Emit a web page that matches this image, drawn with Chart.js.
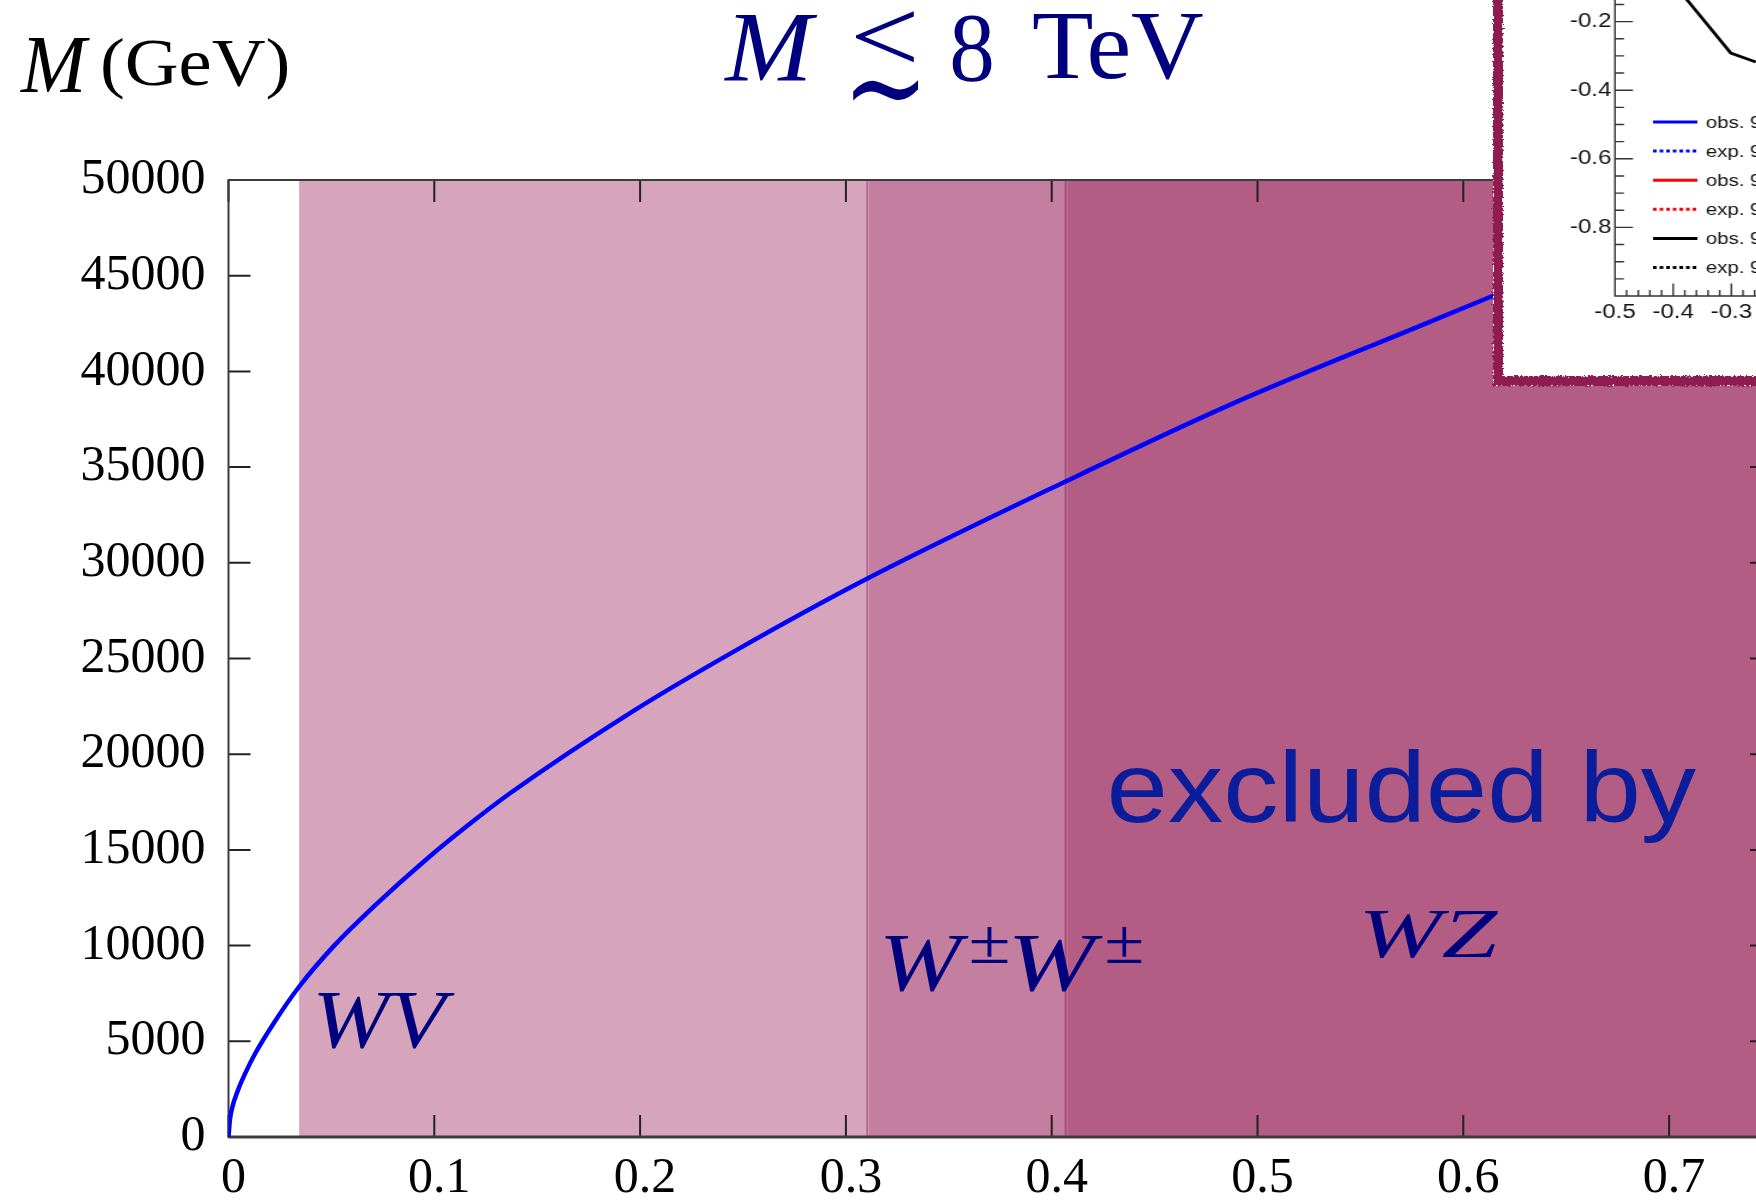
<!DOCTYPE html>
<html>
<head>
<meta charset="utf-8">
<title>M (GeV) exclusion</title>
<script src="https://cdn.jsdelivr.net/npm/chart.js"></script>
<style>
  html, body { margin: 0; padding: 0; overflow: hidden; background: #fff; }
  #wrap { position: relative; width: 1756px; height: 1202px; overflow: hidden; }
  #main { position: absolute; left: 0; top: 0; }
  #inset { position: absolute; left: 1493px; top: -30px; width: 300px; height: 396px;
           border: 10px solid transparent; background: #fff; overflow: hidden; }
  #insetEdge { position: absolute; left: 1493px; top: -30px; width: 300px; height: 396px;
               border: 10px solid #8e1a50; filter: url(#rough); }
  #insetChart { position: absolute; left: 0; top: -42px; transform: scaleX(1.2); transform-origin: 0 0; }
</style>
</head>
<body>
<svg width="0" height="0" style="position:absolute">
  <filter id="rough" x="-5%" y="-5%" width="110%" height="110%">
    <feTurbulence type="fractalNoise" baseFrequency="0.55" numOctaves="2" seed="3"/>
    <feDisplacementMap in="SourceGraphic" scale="5" xChannelSelector="R" yChannelSelector="G"/>
  </filter>
</svg>
<div id="wrap">
  <canvas id="main" width="1780" height="1202"></canvas>
  <div id="inset"><canvas id="insetChart" width="260" height="438"></canvas></div>
  <div id="insetEdge"></div>
</div>
<script>
// lower bound on M versus coupling
const couplingX = [0, 0.0007, 0.0016, 0.0048, 0.008, 0.0129, 0.0226, 0.0343, 0.0518, 0.0712,
                   0.0955, 0.1165, 0.1368, 0.1951, 0.247, 0.310, 0.4068, 0.4882, 0.579, 0.6154];
const massGeV   = [0, 900, 1450, 2500, 3300, 4350, 6050, 7850, 10050, 12100,
                   14450, 16300, 17960, 22150, 25450, 29150, 34250, 38330, 42380, 43990];

// excluded regions: WV from the first edge, W±W± from the second, WZ from the third
const bandNames = ['WV', 'W±W±', 'WZ'];
const bandFrom  = [0.0343, 0.3104, 0.4068];

// inset: observed limit contour (black)
const insetX = [-0.40, -0.372, -0.301, -0.258];
const insetY = [-0.09, -0.145, -0.292, -0.318];
const insetLegend = ['obs. 95% CL', 'exp. 95% CL', 'obs. 95% CL', 'exp. 95% CL', 'obs. 95% CL', 'exp. 95% CL'];

const X_MAX = 0.75, Y_MAX = 50000;
const bandFill = ['#d6a5bb', '#c47e9f', '#b45d84'];
const bandEdge = ['#d6a5bb', '#b8668e', '#a84c7a'];
const NAVY = '#00007f';

// draw text so that its ink fills the given box
function inkText(ctx, str, font, color, x0, x1, yTop, yBot) {
  ctx.save();
  ctx.font = font;
  ctx.fillStyle = color;
  ctx.textAlign = 'left';
  ctx.textBaseline = 'alphabetic';
  const m = ctx.measureText(str);
  const w = m.actualBoundingBoxLeft + m.actualBoundingBoxRight;
  const h = m.actualBoundingBoxAscent + m.actualBoundingBoxDescent;
  const sx = (x1 - x0) / w, sy = (yBot - yTop) / h;
  ctx.translate(x0 + m.actualBoundingBoxLeft * sx, yTop + m.actualBoundingBoxAscent * sy);
  ctx.scale(sx, sy);
  ctx.fillText(str, 0, 0);
  ctx.restore();
}

const frame = {
  id: 'frame',
  beforeDatasetDraw(chart, args) {
    if (args.index !== 0) return;           // curve is drawn last; frame goes just under it
    const { ctx, chartArea: a, scales: { x, y } } = chart;
    ctx.save();
    // band edges
    ctx.lineWidth = 2;
    bandFrom.forEach((b, i) => {
      if (i === 0) return;
      const px = x.getPixelForValue(b);
      ctx.strokeStyle = bandEdge[i];
      ctx.beginPath(); ctx.moveTo(px, a.top); ctx.lineTo(px, a.bottom); ctx.stroke();
    });
    ctx.strokeStyle = '#222';
    ctx.lineWidth = 2;
    ctx.beginPath();
    x.ticks.forEach(t => {
      const px = x.getPixelForValue(t.value);
      ctx.moveTo(px, a.bottom); ctx.lineTo(px, a.bottom - 22);
      ctx.moveTo(px, a.top); ctx.lineTo(px, a.top + 22);
    });
    y.ticks.forEach(t => {
      const py = y.getPixelForValue(t.value);
      ctx.moveTo(a.left, py); ctx.lineTo(a.left + 22, py);
      ctx.moveTo(a.right, py); ctx.lineTo(a.right - 22, py);
    });
    ctx.stroke();
    ctx.strokeStyle = '#3c3c3c';
    ctx.strokeRect(a.left, a.top, a.right - a.left, a.bottom - a.top);
    ctx.lineWidth = 3;
    ctx.beginPath();
    ctx.moveTo(a.left, a.bottom); ctx.lineTo(a.right, a.bottom);
    ctx.stroke();
    ctx.restore();
  },
  afterDraw(chart) {
    const { ctx, scales: { x, y } } = chart;
    const X = v => x.getPixelForValue(v), Y = v => y.getPixelForValue(v);
    const serif = '"Liberation Serif", "DejaVu Serif", serif';

    // axis title and heading
    inkText(ctx, 'M', 'italic 85px ' + serif, '#000', 20, 90, 37, 92);
    inkText(ctx, '(GeV)', '73px ' + serif, '#000', 103, 288, 38, 100);
    inkText(ctx, 'M', 'italic 98px ' + serif, NAVY, 723, 818, 15, 80);
    inkText(ctx, '<', '118px ' + serif, NAVY, 855, 914, 10, 63);
    inkText(ctx, '∼', '86px "DejaVu Serif"', NAVY, 853, 918, 79, 101);
    inkText(ctx, '8', '98px ' + serif, NAVY, 952, 992, 15, 82);
    inkText(ctx, 'TeV', '98px ' + serif, NAVY, 1033, 1203, 15, 80);

    // region names, placed in data units
    inkText(ctx, 'WV', 'italic 80px ' + serif, NAVY, X(0.0435), X(0.1100), Y(7523), Y(4650));
    inkText(ctx, 'W', 'italic 80px ' + serif, NAVY, X(0.3190), X(0.3598), Y(10554), Y(7628));
    inkText(ctx, '±', '60px ' + serif, NAVY, X(0.3608), X(0.3788), Y(10972), Y(9091));
    inkText(ctx, 'W', 'italic 80px ' + serif, NAVY, X(0.3817), X(0.4249), Y(10554), Y(7628));
    inkText(ctx, '±', '60px ' + serif, NAVY, X(0.4268), X(0.4438), Y(10972), Y(9091));
    inkText(ctx, 'WZ', 'italic 76px ' + serif, NAVY, X(0.5523), X(0.6169), Y(11808), Y(9352));
    inkText(ctx, 'excluded by', '100px "Liberation Sans", Arial, sans-serif', '#0b1d9b',
            X(0.4288), X(0.7131), Y(20272), Y(15360));
  }
};

const datasets = [{
  label: 'M',
  data: couplingX.map((c, i) => ({ x: c, y: massGeV[i] })),
  borderColor: '#0000ff',
  borderWidth: 4.5,
  pointRadius: 0,
  cubicInterpolationMode: 'monotone',
  fill: false
}];
// each band filled from its edge up to the next one (a hair past it, so no seam shows)
bandFrom.forEach((b, i) => {
  const to = i + 1 < bandFrom.length ? bandFrom[i + 1] + 0.001 : X_MAX;
  datasets.push({
    label: bandNames[i],
    data: [{ x: b, y: Y_MAX }, { x: to, y: Y_MAX }],
    backgroundColor: bandFill[i],
    borderColor: bandFill[i],
    borderWidth: 0,
    pointRadius: 0,
    tension: 0,
    fill: 'origin'
  });
});

new Chart(document.getElementById('main').getContext('2d'), {
  type: 'line',
  data: { datasets },
  plugins: [frame],
  options: {
    responsive: false,
    animation: false,
    devicePixelRatio: 1,
    layout: { padding: { left: 0, top: 180, right: 8, bottom: 0 } },
    plugins: { legend: { display: false }, tooltip: { enabled: false } },
    scales: {
      x: {
        type: 'linear', min: 0, max: X_MAX,
        border: { display: false },
        grid: { display: false, drawTicks: false },
        ticks: {
          stepSize: 0.1, includeBounds: false, autoSkip: false, maxRotation: 0,
          color: '#000', padding: 12, labelOffset: 5,
          font: { family: '"Liberation Serif"', size: 50 },
          callback: v => String(Math.round(v * 10) / 10)
        },
        afterFit(s) { s.height = 65; }
      },
      y: {
        type: 'linear', min: 0, max: Y_MAX,
        border: { display: false },
        grid: { display: false, drawTicks: false },
        ticks: {
          stepSize: 5000, color: '#000', padding: 23,
          font: { family: '"Liberation Serif"', size: 50 },
          callback: v => String(v)
        },
        afterFit(s) { s.width = 228.5; }
      }
    }
  }
});

// ---- inset ----
const insetAxes = {
  id: 'insetAxes',
  beforeDatasetsDraw(chart) {
    const { ctx, chartArea: a, scales: { x, y } } = chart;
    ctx.save();
    ctx.strokeStyle = '#333';
    ctx.lineWidth = 1.4;
    ctx.beginPath();
    ctx.moveTo(a.left, a.top); ctx.lineTo(a.left, a.bottom); ctx.lineTo(a.right, a.bottom);
    for (let k = 0; k * 0.05 <= (y.max - y.min) + 1e-9; k++) {
      const py = y.getPixelForValue(y.min + k * 0.05);
      ctx.moveTo(a.left, py); ctx.lineTo(a.left + (k % 4 === 0 ? 15 : 7.5), py);
    }
    for (let k = 0; k * 0.02 <= (x.max - x.min) + 1e-9; k++) {
      const px = x.getPixelForValue(x.min + k * 0.02);
      ctx.moveTo(px, a.bottom); ctx.lineTo(px, a.bottom - (k % 5 === 0 ? 12.5 : 6));
    }
    ctx.stroke();
    ctx.restore();
  },
  afterDraw(chart) {
    const ctx = chart.ctx;
    ctx.save();
    ctx.font = '17px "Liberation Sans", Arial, sans-serif';
    ctx.fillStyle = '#111';
    ctx.textBaseline = 'middle';
    chart.data.datasets.forEach((ds, i) => {
      const ry = 184 + i * 29.1;
      ctx.strokeStyle = ds.borderColor;
      ctx.lineWidth = 3;
      ctx.setLineDash(ds.borderDash || []);
      ctx.beginPath();
      ctx.moveTo(125, ry); ctx.lineTo(162, ry);
      ctx.stroke();
      ctx.fillText(ds.label, 169, ry + 1);
    });
    ctx.restore();
  }
};

const insetColors = ['#0000ff', '#0000ff', '#ff0000', '#ff0000', '#000000', '#000000'];
const insetSets = insetLegend.map((lab, i) => ({
  label: lab,
  data: i === 4 ? insetX.map((v, k) => ({ x: v, y: insetY[k] })) : [],
  borderColor: insetColors[i],
  borderDash: i % 2 ? [3, 2.5] : undefined,
  borderWidth: 2.8,
  pointRadius: 0,
  tension: 0,
  fill: false
}));

new Chart(document.getElementById('insetChart').getContext('2d'), {
  type: 'line',
  data: { datasets: insetSets },
  plugins: [insetAxes],
  options: {
    responsive: false,
    animation: false,
    devicePixelRatio: 1,
    layout: { padding: { left: 0, top: 12, right: 20, bottom: 0 } },
    plugins: { legend: { display: false }, tooltip: { enabled: false } },
    scales: {
      x: {
        type: 'linear', min: -0.5, max: -0.2,
        border: { display: false },
        grid: { display: false, drawTicks: false },
        ticks: {
          stepSize: 0.1, includeBounds: false, autoSkip: false, maxRotation: 0,
          color: '#111', padding: 4,
          font: { family: '"Liberation Sans"', size: 20 },
          callback: v => v.toFixed(1)
        },
        afterFit(s) { s.height = 80; }
      },
      y: {
        type: 'linear', min: -1, max: 0,
        border: { display: false },
        grid: { display: false, drawTicks: false },
        ticks: {
          stepSize: 0.2, includeBounds: false, color: '#111', padding: 3,
          font: { family: '"Liberation Sans"', size: 20 },
          callback: v => (v < -0.99 || v > -0.01) ? null : v.toFixed(1)
        },
        afterFit(s) { s.width = 93.3; }
      }
    }
  }
});
</script>
</body>
</html>
